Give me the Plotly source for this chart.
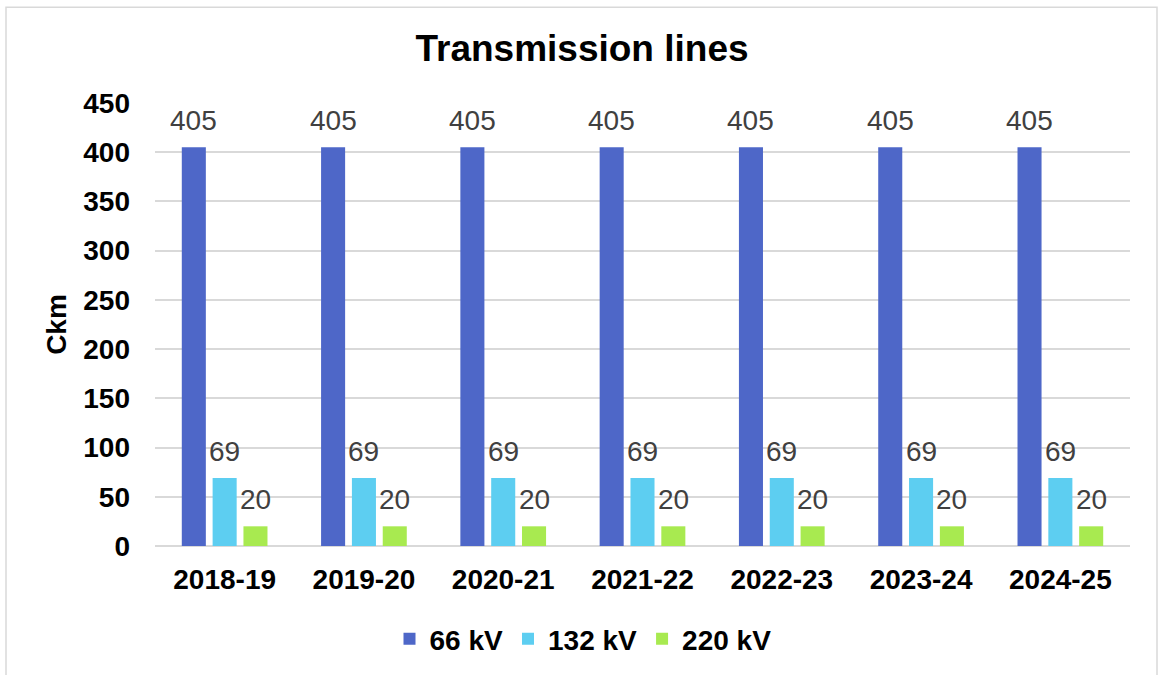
import plotly.graph_objects as go

categories = ["2018-19", "2019-20", "2020-21", "2021-22", "2022-23", "2023-24", "2024-25"]
series_names = ["66 kV", "132 kV", "220 kV"]
kv66 = [405, 405, 405, 405, 405, 405, 405]
kv132 = [69, 69, 69, 69, 69, 69, 69]
kv220 = [20, 20, 20, 20, 20, 20, 20]
colors = ["#4E67C8", "#5DCEF1", "#A8EA50"]
y_ticks = [0, 50, 100, 150, 200, 250, 300, 350, 400, 450]

series = [kv66, kv132, kv220]
bargap = 0.336
bargroupgap = 0.22

FONT = "Liberation Sans, Arial"

fig = go.Figure()
for name, vals, col in zip(series_names, series, colors):
    fig.add_trace(go.Bar(x=categories, y=vals, name=name, marker_color=col,
                         marker_line_width=0))

# data labels placed above each bar
slot = (1 - bargap) / len(series)
annotations = []
for k, vals in enumerate(series):
    off = (k - (len(series) - 1) / 2) * slot
    for i, v in enumerate(vals):
        annotations.append(dict(x=i + off, y=v, xref="x", yref="y", text=str(v),
                                showarrow=False, yanchor="middle", xanchor="center",
                                yshift=27,
                                font=dict(family=FONT, size=28, color="#404040")))

L, R, T, B = 155, 28, 103, 128
W, H = 1158, 675
pw, ph = W - L - R, H - T - B

def px_x(p):
    return (p - L) / pw

def px_y(p):
    return (H - B - p) / ph

bold28 = dict(family=FONT, size=28, color="black", weight="bold")

fig.update_layout(
    width=W, height=H,
    margin=dict(l=L, r=R, t=T, b=B),
    paper_bgcolor="white", plot_bgcolor="white",
    barmode="group", bargap=bargap, bargroupgap=bargroupgap,
    font=dict(family=FONT, color="black"),
    title=dict(text="Transmission lines", x=px_x(582), xref="paper", xanchor="center",
               y=1 - 48 / H, yanchor="middle",
               font=dict(size=37, color="black", family=FONT, weight="bold")),
    xaxis=dict(showgrid=False, showline=False, zeroline=False,
               tickfont=bold28, ticklabelstandoff=14),
    yaxis=dict(range=[0, 450], tickvals=y_ticks, showgrid=True, gridcolor="#D9D9D9", gridwidth=1.5,
               zeroline=True, zerolinecolor="#D9D9D9", zerolinewidth=2,
               tickfont=bold28, ticklabelstandoff=24,
               title=dict(text="Ckm", font=bold28, standoff=8)),
    legend=dict(orientation="h", x=px_x(583), xanchor="center", y=px_y(639), yanchor="middle",
                font=bold28, traceorder="normal", itemwidth=30),
    annotations=annotations,
    shapes=[dict(type="rect", xref="paper", yref="paper",
                 x0=px_x(6), x1=px_x(1157), y0=px_y(690), y1=px_y(7),
                 line=dict(color="#D9D9D9", width=1.5), fillcolor="rgba(0,0,0,0)", layer="below")],
)

fig.write_html("out.html", config={"displayModeBar": False},
               post_script="document.body.style.margin='0';document.body.style.overflow='hidden';")
